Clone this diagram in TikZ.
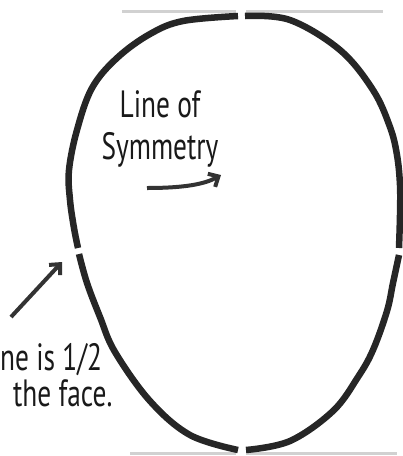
\documentclass[tikz,border=0pt]{standalone}
\usepackage{fontspec}
\newfontfamily\hand[FakeStretch=0.72]{PT Sans}
\usetikzlibrary{arrows.meta}
\begin{document}
\begin{tikzpicture}[x=1pt,y=-1pt,>={Straight Barb[length=8pt,width=15pt]},
  o/.style={draw=black!85,line width=6.5pt},g/.style={draw=black!18,line width=3pt},
  t/.style={font=\hand\fontsize{38}{42}\selectfont,text=black!90,inner sep=0pt},
  a/.style={->,draw=black!80,line width=4pt}]
\useasboundingbox (0,0) rectangle (403,456);
\clip (0,0) rectangle (403,456);
% guide lines top and bottom
\draw[g] (122,11)--(236,11);\draw[g] (246,11)--(383,11);
\draw[g] (130,453)--(236,453);\draw[g] (246,453)--(397,453);
% head outline, four quarters with gaps
\draw[o] plot[smooth,tension=0.6] coordinates {(238,16) (183,21) (150,34) (117,58) (92,88) (77,130) (69,170) (70,200) (74,228) (78,248)};
\draw[o] plot[smooth,tension=0.6] coordinates {(79,254) (87,283) (100,317) (115,352) (150,401) (190,435) (238,450)};
\draw[o] plot[smooth,tension=0.6] coordinates {(245,16) (290,20) (340,50) (373,90) (390,127) (397,155) (400,185) (400,215) (399,248)};
\draw[o] plot[smooth,tension=0.6] coordinates {(399,255) (393,283) (387,311) (373,350) (358,377) (333,411) (290,441) (246,450)};
% labels
\node[t,align=center,anchor=north] (sym) at (160,90) {Line of\\Symmetry};
\coordinate (s0) at (147,188);\coordinate (s1) at (221,175);
\draw[a] (s0) .. controls (185,188) and (205,184) .. (s1);
\node[t,anchor=base west] (eye1) at (0,370) {ne is 1/2};
\node[t,anchor=base west] (eye2) at (13,406) {the face.};
\coordinate (e0) at (11,317);\coordinate (e1) at (62,262);
\draw[a] (e0)--(e1);
\end{tikzpicture}
\end{document}
